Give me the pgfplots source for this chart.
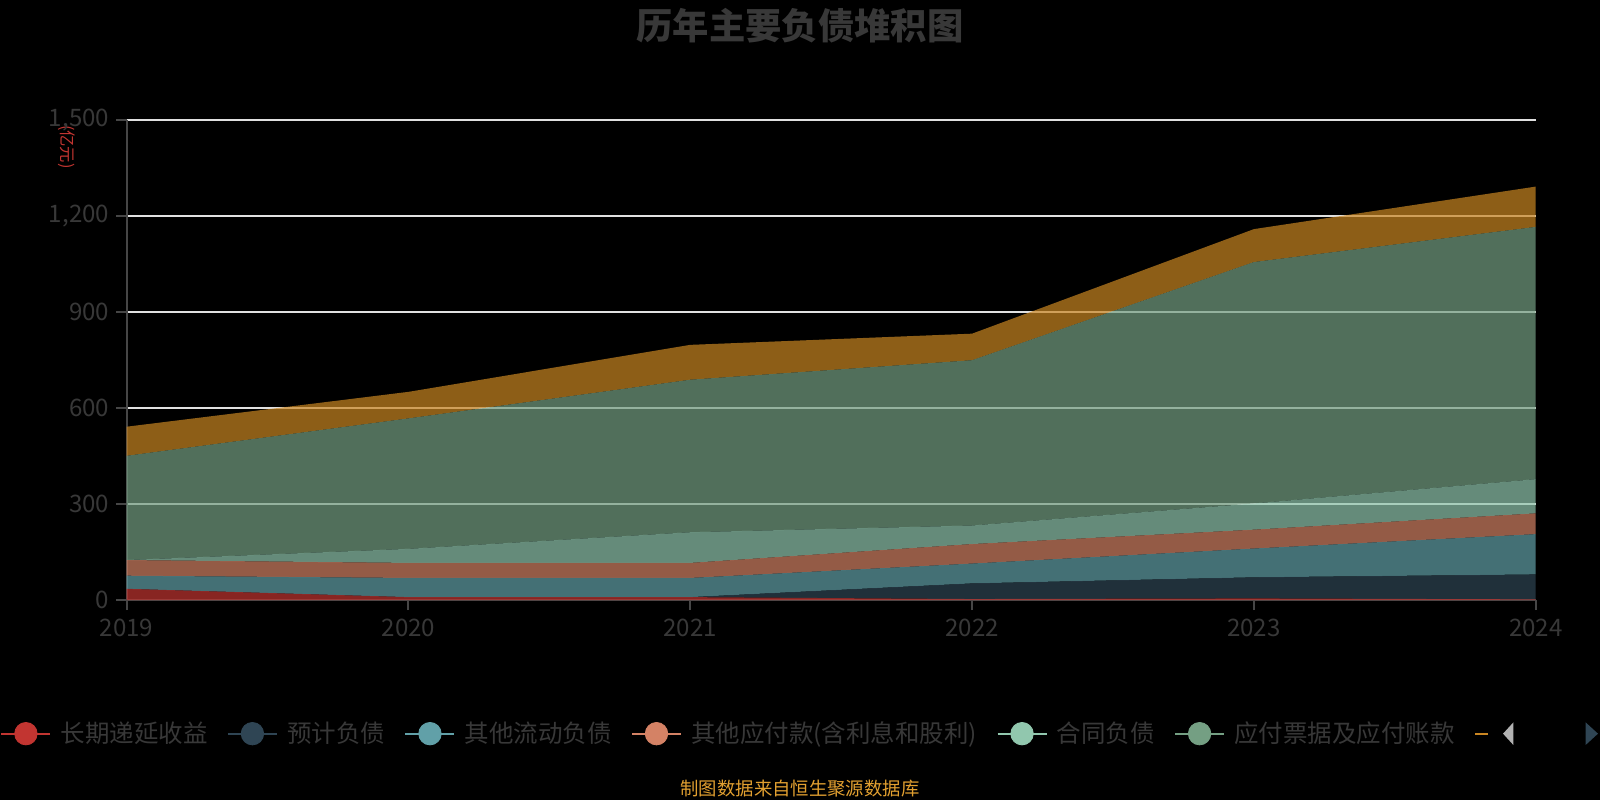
\documentclass[border=0pt]{standalone}
\usepackage{fontspec}
\setmainfont{Noto Sans CJK SC}
\usepackage{pgfplots}
\pgfplotsset{compat=1.18}
\definecolor{c1}{HTML}{C23531}
\definecolor{c2}{HTML}{2F4554}
\definecolor{c3}{HTML}{61A0A8}
\definecolor{c4}{HTML}{D48265}
\definecolor{c5}{HTML}{91C7AE}
\definecolor{c6}{HTML}{749F83}
\definecolor{c7}{HTML}{CA8622}
\definecolor{labc}{HTML}{383838}
\definecolor{axisc}{HTML}{464646}
\definecolor{gridc}{HTML}{E0E0E0}
\definecolor{footc}{RGB}{226,160,48}
\pgfplotsset{
  dotlegend/.style={
    legend image code/.code={
      \draw[##1, line width=1pt] (0pt,0pt) -- (24pt,0pt);
      \fill[##1] (12pt,0pt) circle (5.5pt);
    }
  }
}
\begin{document}
\begin{tikzpicture}
\fill[black] (0,0) rectangle (784pt,392pt);
\useasboundingbox (0,0) rectangle (784pt,392pt);
\node[text=labc, font=\fontsize{17.8}{20}\selectfont\bfseries] at (392pt,379.5pt) {历年主要负债堆积图};
\node[text=c1, rotate=-90, font=\fontsize{8}{9}\selectfont] at (32.5pt,320pt) {(亿元)};
\begin{axis}[
  at={(62pt,98pt)}, anchor=south west,
  width=690.5pt, height=235pt, scale only axis,
  xmin=2019, xmax=2024, ymin=0, ymax=1500,
  xtick={2019,2020,2021,2022,2023,2024},
  xticklabels={2019,2020,2021,2022,2023,2024},
  ytick={0,300,600,900,1200,1500},
  yticklabels={0,300,600,900,{1,200},{1,500}},
  axis x line*=bottom, axis y line*=left,
  tick align=outside, major tick length=5pt,
  ymajorgrids, grid style={color=gridc, line width=1pt},
  axis line style={color=axisc, line width=1pt},
  tick style={color=axisc, line width=1pt},
  tick label style={color=labc, font=\fontsize{11.8}{13}\selectfont},
  xticklabel style={yshift=-1pt},
  stack plots=y,
  legend columns=-1,
  legend style={at={(-0.0898,-0.2787)}, anchor=west, draw=none, fill=none,
    inner sep=0pt, text=labc, font=\fontsize{12}{13}\selectfont,
    nodes={inner xsep=0pt},
    /tikz/every odd column/.append style={column sep=4.5pt},
    /tikz/every even column/.append style={column sep=9.5pt}},
]
\addlegendimage{dotlegend, color=c1}
\addlegendentry{长期递延收益}
\addlegendimage{dotlegend, color=c2}
\addlegendentry{预计负债}
\addlegendimage{dotlegend, color=c3}
\addlegendentry{其他流动负债}
\addlegendimage{dotlegend, color=c4}
\addlegendentry{其他应付款(含利息和股利)}
\addlegendimage{dotlegend, color=c5}
\addlegendentry{合同负债}
\addlegendimage{dotlegend, color=c6}
\addlegendentry{应付票据及应付账款}
\addlegendimage{dotlegend, color=c7}
\addlegendentry{\mbox{}}
% 长期递延收益
\addplot[draw=none, fill=c1, fill opacity=0.7] coordinates {(2019,35) (2020,9) (2021,9) (2022,3) (2023,5) (2024,2)} \closedcycle;
% 预计负债
\addplot[draw=none, fill=c2, fill opacity=0.7] coordinates {(2019,0) (2020,0) (2021,0) (2022,49) (2023,66) (2024,78)} \closedcycle;
% 其他流动负债
\addplot[draw=none, fill=c3, fill opacity=0.7] coordinates {(2019,41) (2020,60) (2021,60) (2022,62) (2023,90) (2024,126)} \closedcycle;
% 其他应付款
\addplot[draw=none, fill=c4, fill opacity=0.7] coordinates {(2019,49) (2020,47) (2021,47) (2022,61) (2023,59) (2024,65)} \closedcycle;
% 合同负债
\addplot[draw=none, fill=c5, fill opacity=0.7] coordinates {(2019,0) (2020,44) (2021,96) (2022,58) (2023,82) (2024,107)} \closedcycle;
% 应付票据及应付账款
\addplot[draw=none, fill=c6, fill opacity=0.7] coordinates {(2019,326) (2020,408) (2021,477) (2022,517) (2023,755) (2024,789)} \closedcycle;
% 第七项
\addplot[draw=none, fill=c7, fill opacity=0.7] coordinates {(2019,91) (2020,83) (2021,109) (2022,83) (2023,103) (2024,126)} \closedcycle;
\end{axis}
% legend page buttons (legend clipped before them)
\fill[black] (729pt,22pt) rectangle (784pt,43pt);
\fill[gray!60] (736.5pt,32.5pt) -- (741.5pt,38pt) -- (741.5pt,27pt) -- cycle;
\fill[c2] (777pt,38pt) -- (783pt,32.5pt) -- (777pt,27pt) -- cycle;
\node[text=footc, font=\fontsize{9}{10}\selectfont] at (392pt,5.5pt) {制图数据来自恒生聚源数据库};
\end{tikzpicture}
\end{document}
